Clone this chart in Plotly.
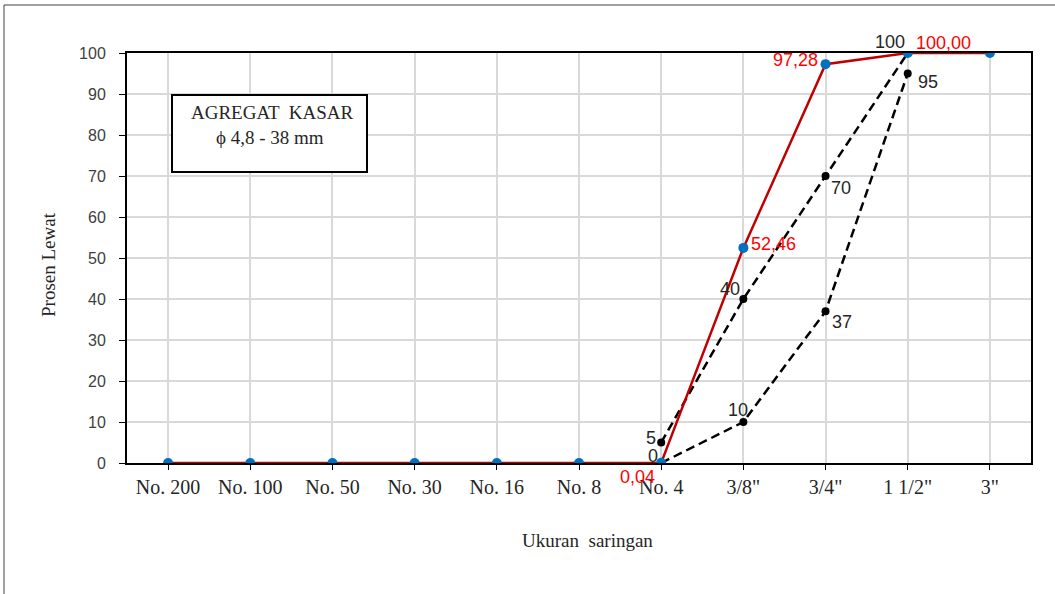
import plotly.graph_objects as go

categories = ["No. 200", "No. 100", "No. 50", "No. 30", "No. 16", "No. 8",
              "No. 4", "3/8\"", "3/4\"", "1 1/2\"", "3\""]
passing = [0, 0, 0, 0, 0, 0, 0.04, 52.46, 97.28, 100.00, 100.00]
upper_idx = [6, 7, 8, 9]
upper_vals = [5, 40, 70, 100]
lower_idx = [6, 7, 8, 9]
lower_vals = [0, 10, 37, 95]

fig = go.Figure()
fig.add_trace(go.Scatter(x=[categories[i] for i in upper_idx], y=upper_vals, mode="lines+markers",
                         line=dict(color="black", width=2.5, dash="9px,5px"),
                         marker=dict(color="black", size=8), showlegend=False))
fig.add_trace(go.Scatter(x=[categories[i] for i in lower_idx], y=lower_vals, mode="lines+markers",
                         line=dict(color="black", width=2.5, dash="9px,5px"),
                         marker=dict(color="black", size=8), showlegend=False))
fig.add_trace(go.Scatter(x=categories, y=passing, mode="lines+markers",
                         line=dict(color="#C00000", width=2.5),
                         marker=dict(color="#0070C0", size=10), showlegend=False))

ann = []
sans = "Liberation Sans, Arial, sans-serif"
serif = "Liberation Serif, Times New Roman, serif"

def fmt(v):
    return f"{v:.2f}".replace(".", ",")

red_specs = {6: ("center", -24, -14), 7: ("left", 6, 4), 8: ("right", -6, 4), 9: ("left", 6, 10)}
for i, (xa, xs, ys) in red_specs.items():
    ann.append(dict(x=categories[i], y=passing[i], text=fmt(passing[i]), showarrow=False,
                    xanchor=xa, yanchor="middle", xshift=xs, yshift=ys,
                    font=dict(family=sans, size=18, color="#FF0000")))

up_specs = [("right", -3, 5), ("right", -1, 10), ("left", 3, -12), ("right", -1, 11)]
for i, v, (xa, xs, ys) in zip(upper_idx, upper_vals, up_specs):
    ann.append(dict(x=categories[i], y=v, text=str(v), showarrow=False,
                    xanchor=xa, yanchor="middle", xshift=xs, yshift=ys,
                    font=dict(family=sans, size=18, color="#262626")))

lo_specs = [("right", -1, 7), ("center", -5, 12), ("left", 4, -11), ("left", 8, -8)]
for i, v, (xa, xs, ys) in zip(lower_idx, lower_vals, lo_specs):
    ann.append(dict(x=categories[i], y=v, text=str(v), showarrow=False,
                    xanchor=xa, yanchor="middle", xshift=xs, yshift=ys,
                    font=dict(family=sans, size=18, color="#262626")))

ann.append(dict(x=(48 - 127) / 904, y=(463 - 265) / 410, xref="paper", yref="paper",
                xanchor="center", yanchor="middle",
                text="Prosen Lewat", textangle=-90, showarrow=False,
                font=dict(family=serif, size=19, color="#262626")))
ann.append(dict(x=(587 - 127) / 904, y=(463 - 540) / 410, xref="paper", yref="paper",
                xanchor="center", yanchor="middle",
                text="Ukuran  saringan", showarrow=False,
                font=dict(family=serif, size=19, color="#262626")))

ann.append(dict(x=(272 - 127) / 904, y=(463 - 112) / 410, xref="paper", yref="paper",
                xanchor="center", yanchor="middle",
                text="AGREGAT  KASAR", showarrow=False,
                font=dict(family=serif, size=19, color="#262626")))
ann.append(dict(x=(270 - 127) / 904, y=(463 - 137) / 410, xref="paper", yref="paper",
                xanchor="center", yanchor="middle",
                text="ϕ 4,8 - 38 mm", showarrow=False,
                font=dict(family=serif, size=19, color="#262626")))

shapes = [
    dict(type="rect", xref="paper", yref="paper",
         x0=(172 - 127) / 904, x1=(367 - 127) / 904,
         y0=(463 - 172) / 410, y1=(463 - 95) / 410,
         line=dict(color="black", width=2), fillcolor="white", layer="above"),
    dict(type="line", xref="paper", yref="paper",
         x0=(4 - 127) / 904, x1=(4 - 127) / 904, y0=(463 - 594) / 410, y1=(463 - 5) / 410,
         line=dict(color="#404040", width=1)),
    dict(type="line", xref="paper", yref="paper",
         x0=(4 - 127) / 904, x1=(1055 - 127) / 904, y0=(463 - 5) / 410, y1=(463 - 5) / 410,
         line=dict(color="#404040", width=1)),
]

fig.update_layout(
    width=1055, height=594,
    margin=dict(l=127, r=24, t=53, b=131),
    paper_bgcolor="white", plot_bgcolor="white",
    annotations=ann, shapes=shapes,
    xaxis=dict(type="category", categoryorder="array", categoryarray=categories,
               range=[-0.5, 10.5], showgrid=True, gridcolor="#D9D9D9", gridwidth=1.5,
               minor=dict(showgrid=True, gridcolor="#D9D9D9", gridwidth=1.5),
               showline=True, linecolor="black", linewidth=2, mirror=True,
               ticks="outside", ticklen=5, tickcolor="black",
               tickfont=dict(family=serif, size=20, color="#262626"), zeroline=False),
    yaxis=dict(range=[0, 100], dtick=10, showgrid=True, gridcolor="#D9D9D9", gridwidth=1.5,
               showline=True, linecolor="black", linewidth=2, mirror=True,
               ticks="outside", ticklen=6, tickcolor="black", ticklabelstandoff=10,
               tickfont=dict(family=sans, size=16, color="#404040"), zeroline=False),
)

fig.write_html("out.html", post_script="document.body.style.margin='0';",
               config={"displayModeBar": False})
